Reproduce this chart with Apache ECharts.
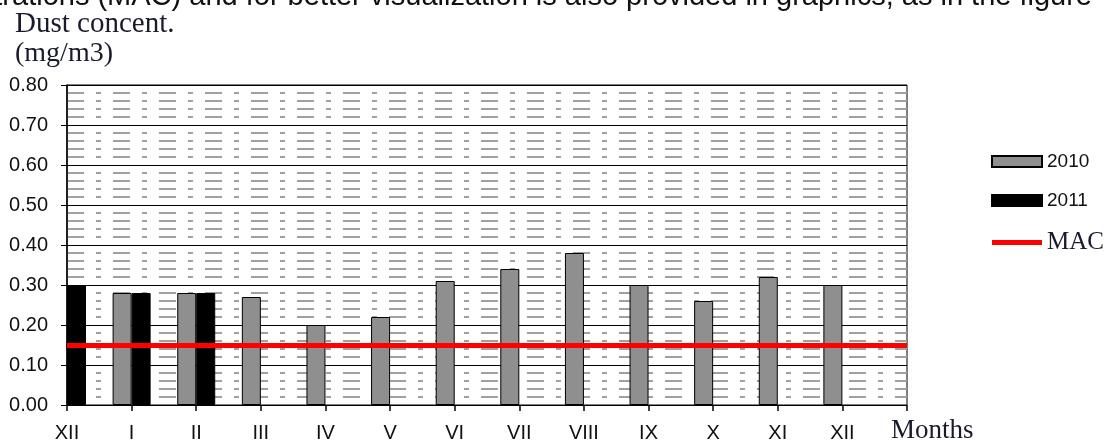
<!DOCTYPE html>
<html>
<head>
<meta charset="utf-8">
<script src="https://cdn.jsdelivr.net/npm/echarts@6/dist/echarts.min.js"></script>
<style>
  html, body { margin: 0; padding: 0; background: #fff; }
  #chart { width: 1104px; height: 443px; }
</style>
</head>
<body>
<div id="chart"></div>
<script>
// ---- data ----
const categories = ['XII', 'I', 'II', 'III', 'IV', 'V', 'VI', 'VII', 'VIII', 'IX', 'X', 'XI', 'XII'];
const values2010 = [null, 0.28, 0.28, 0.27, 0.20, 0.22, 0.31, 0.34, 0.38, 0.30, 0.26, 0.32, 0.30];
const values2011 = [0.30, 0.28, 0.28, null, null, null, null, null, null, null, null, null, null];
const macValue = 0.15;
const yTicks = [0.0, 0.1, 0.2, 0.3, 0.4, 0.5, 0.6, 0.7, 0.8];

// axis positions: ticks sit on category boundaries, so one extra empty slot closes the axis
const axisCategories = categories.concat(['']);

const SANS = '"Liberation Sans", Arial, sans-serif';
const SERIF = '"Liberation Serif", "Times New Roman", serif';

const chart = echarts.init(document.getElementById('chart'), null, { renderer: 'canvas' });

chart.setOption({
  animation: false,
  backgroundColor: '#ffffff',
  grid: {
    left: 67, right: 197, top: 85, bottom: 38,
    show: true, backgroundColor: '#ffffff', borderColor: '#000000', borderWidth: 1
  },
  xAxis: {
    type: 'category',
    data: axisCategories,
    boundaryGap: false,
    axisLine: { show: true, lineStyle: { color: '#000', width: 1 } },
    axisTick: { show: true, interval: 0, length: 6, lineStyle: { color: '#000', width: 1.5 } },
    axisLabel: { interval: 0, margin: 18, color: '#111', fontFamily: SANS, fontSize: 20 },
    splitLine: { show: false }
  },
  yAxis: {
    type: 'value',
    min: yTicks[0],
    max: yTicks[yTicks.length - 1],
    interval: 0.1,
    axisLine: { show: true, lineStyle: { color: '#000', width: 1.5 } },
    axisTick: { show: true, length: 6, lineStyle: { color: '#000', width: 1 } },
    axisLabel: {
      margin: 19, color: '#111', fontFamily: SANS, fontSize: 20,
      formatter: v => v.toFixed(2)
    },
    splitLine: { show: true, lineStyle: { color: '#000', width: 1 } },
    minorTick: { show: false, splitNumber: 5 },
    minorSplitLine: {
      show: true,
      lineStyle: { color: '#a0a0a0', width: 2, type: [17, 12, 5, 12], dashOffset: 0 }
    }
  },
  legend: {
    orient: 'vertical',
    left: 986,
    top: 147,
    itemWidth: 50,
    itemHeight: 11,
    itemGap: 20,
    symbolKeepAspect: true,
    selectedMode: false,
    data: [
      { name: '2010', icon: 'rect' },
      { name: '2011', icon: 'rect' },
      { name: 'MAC', icon: 'path://M0,0h50v5h-50z' }
    ],
    formatter: name => name === 'MAC' ? '{s|MAC}' : '{a|' + name + '}',
    textStyle: {
      rich: {
        a: { fontFamily: SANS, fontSize: 19, color: '#111', lineHeight: 20 },
        s: { fontFamily: SERIF, fontSize: 25, color: '#1a1a2e', lineHeight: 20 }
      }
    }
  },
  series: [
    {
      name: '2010',
      type: 'bar',
      data: values2010,
      barWidth: 19,
      barGap: '0%',
      itemStyle: { color: '#8f8f8f', borderColor: '#000', borderWidth: 1 }
    },
    {
      name: '2011',
      type: 'bar',
      data: values2011,
      barWidth: 19,
      barGap: '0%',
      itemStyle: { color: '#000000', borderColor: '#000', borderWidth: 1 }
    },
    {
      name: 'MAC',
      type: 'line',
      data: [],
      showSymbol: false,
      itemStyle: { color: '#ff0000', borderWidth: 0 },
      lineStyle: { color: '#ff0000', width: 5 },
      markLine: {
        silent: true,
        symbol: ['none', 'none'],
        label: { show: false },
        lineStyle: { color: '#ff0000', width: 5, type: 'solid' },
        data: [{ yAxis: macValue }]
      }
    }
  ],
  graphic: [
    {
      type: 'text', x: 1092, y: -3,
      style: {
        text: 'concentrations (MAC) and for better visualization is also provided in graphics, as in the figure',
        font: '29px ' + SANS, fill: '#111', align: 'right', verticalAlign: 'middle'
      }
    },
    {
      type: 'text', x: 15, y: 24,
      style: { text: 'Dust concent.', font: '29px ' + SERIF, fill: '#1a1a2e', align: 'left', verticalAlign: 'middle' }
    },
    {
      type: 'text', x: 15, y: 54,
      style: { text: '(mg/m3)', font: '28px ' + SERIF, fill: '#1a1a2e', align: 'left', verticalAlign: 'middle' }
    },
    {
      type: 'text', x: 891, y: 431,
      style: { text: 'Months', font: '27px ' + SERIF, fill: '#1a1a2e', align: 'left', verticalAlign: 'middle' }
    }
  ]
});
</script>
</body>
</html>
